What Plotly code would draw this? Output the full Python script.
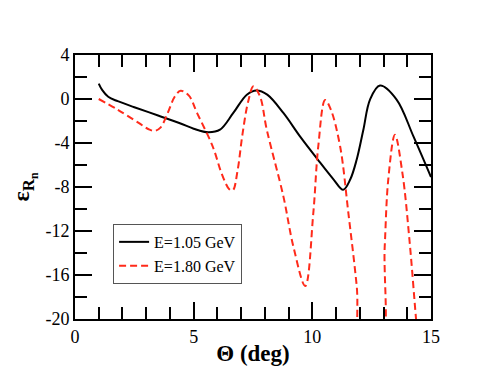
import plotly.graph_objects as go

# E = 1.05 GeV (solid black)
theta_105 = [1.0, 1.15, 1.4, 1.8, 2.5, 3.5, 4.42, 5.0, 5.62, 6.11, 6.67, 7.24, 7.65, 8.1, 8.78,
             9.48, 10.18, 10.89, 11.3, 11.6, 11.87, 12.15, 12.43, 12.85, 13.55, 14.26, 15.0]
eps_105 = [1.4, 0.8, 0.2, -0.2, -0.75, -1.5, -2.2, -2.7, -3.03, -2.79, -1.27, 0.39, 0.78, 0.4, -1.27,
           -3.4, -5.37, -7.3, -8.25, -7.3, -5.5, -2.8, -0.05, 1.22, -0.05, -3.4, -7.1]

# E = 1.80 GeV (dashed red); points below -20 run off the frame
theta_180 = [1.0, 1.8, 2.7, 3.1, 3.35, 3.6, 3.9, 4.2, 4.45, 4.8, 5.15, 5.8, 6.2, 6.5, 6.65, 6.85,
             7.05, 7.3, 7.52, 7.8, 8.08, 8.78, 9.2, 9.7, 10.04, 10.25, 10.54, 10.78, 11.17, 11.52,
             11.87, 12.1, 12.85, 13.05, 13.2, 13.48, 13.8, 14.1, 14.37, 14.5]
eps_180 = [0.0, -0.97, -2.2, -2.75, -2.9, -2.6, -1.3, 0.2, 0.75, 0.3, -1.3, -4.3, -6.9, -8.2, -8.3, -6.5,
           -3.3, -0.2, 1.15, 0.2, -2.79, -8.85, -13.4, -17.0, -10.4, -4.3, -0.1, -0.97, -4.3, -10.4,
           -17.0, -23.0, -23.0, -13.4, -7.3, -3.25, -6.8, -13.0, -20.0, -23.0]

y_ticks = [4, 0, -4, -8, -12, -16, -20]
y_ticktext = ['4', '0', '-4', '-8', '-12', '-16', '-20']

serif = "Times New Roman, Liberation Serif, serif"

fig = go.Figure()
fig.add_trace(go.Scatter(
    x=theta_105, y=eps_105, mode='lines', name='E=1.05 GeV',
    line=dict(color='black', width=2, shape='spline')
))
fig.add_trace(go.Scatter(
    x=theta_180, y=eps_180, mode='lines', name='E=1.80 GeV',
    line=dict(color='#ff2a1a', width=2, dash='7px,4px', shape='spline')
))

axis_common = dict(
    showgrid=False, zeroline=False, showline=True, linecolor='black', linewidth=2,
    mirror='ticks', ticks='inside', ticklen=17, tickwidth=2, tickcolor='black',
    tickfont=dict(family=serif, size=18, color='black'),
    automargin=False,
)
fig.update_xaxes(
    range=[0, 15], dtick=5, tick0=0,
    minor=dict(dtick=1, ticks='inside', ticklen=12, tickwidth=2, tickcolor='black'),
    title=dict(text='<b>Θ (deg)</b>', font=dict(family=serif, size=23, color='black'), standoff=4),
    **axis_common
)
fig.update_yaxes(
    range=[-20, 4], tickvals=y_ticks, ticktext=y_ticktext,
    minor=dict(dtick=2, ticks='inside', ticklen=12, tickwidth=2, tickcolor='black'),
    title=dict(text='<b>ε<sub>R<sub>n</sub></sub></b>', font=dict(family=serif, size=24, color='black'), standoff=24),
    **axis_common
)
# the page body adds an 8px margin, so the figure is sized to fit inside it
fig.update_layout(
    width=469, height=358,
    margin=dict(l=67, r=46, t=47, b=47),
    paper_bgcolor='white', plot_bgcolor='white',
    font=dict(family=serif, color='black'),
    showlegend=True,
    legend=dict(
        x=0.107, y=0.36, xanchor='left', yanchor='top',
        bgcolor='white', bordercolor='#555555', borderwidth=1,
        font=dict(family=serif, size=16, color='black'),
        tracegroupgap=0, itemwidth=30,
    ),
)

fig.write_html("out.html")
